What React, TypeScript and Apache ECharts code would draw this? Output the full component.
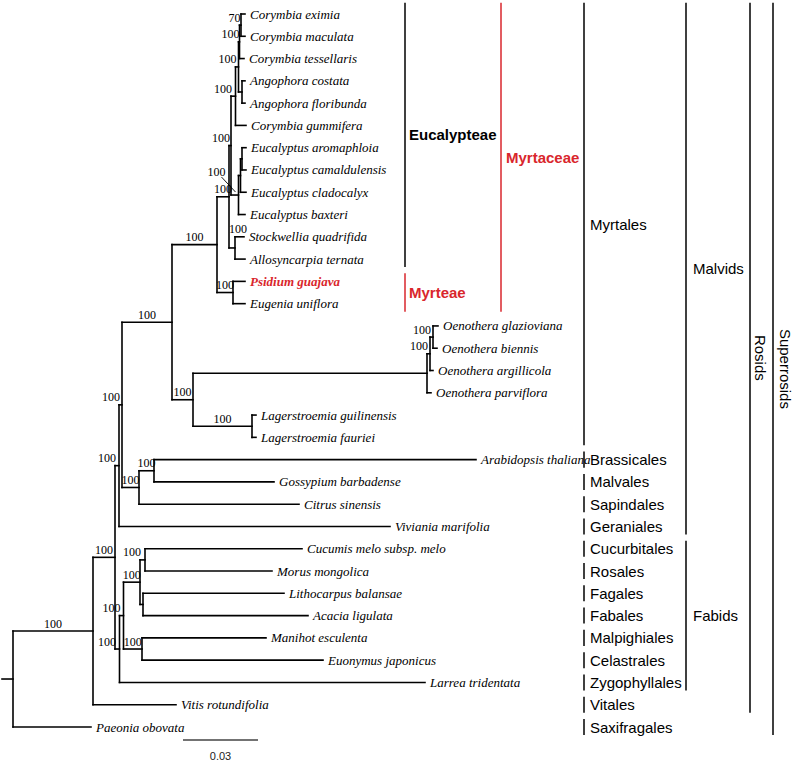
import React, { useEffect, useRef } from "react";
import * as echarts from "echarts";

// ---------------- data ----------------
const leafNames = [
  "Corymbia eximia", "Corymbia maculata", "Corymbia tessellaris", "Angophora costata",
  "Angophora floribunda", "Corymbia gummifera", "Eucalyptus aromaphloia", "Eucalyptus camaldulensis",
  "Eucalyptus cladocalyx", "Eucalyptus baxteri", "Stockwellia quadrifida", "Allosyncarpia ternata",
  "Psidium guajava", "Eugenia uniflora", "Oenothera glazioviana", "Oenothera biennis",
  "Oenothera argillicola", "Oenothera parviflora", "Lagerstroemia guilinensis", "Lagerstroemia fauriei",
  "Arabidopsis thaliana", "Gossypium barbadense", "Citrus sinensis", "Viviania marifolia",
  "Cucumis melo subsp. melo", "Morus mongolica", "Lithocarpus balansae", "Acacia ligulata",
  "Manihot esculenta", "Euonymus japonicus", "Larrea tridentata", "Vitis rotundifolia", "Paeonia obovata",
];
// cumulative distance from root (substitutions per site)
const leafDepths = [
  0.0928, 0.0928, 0.0924, 0.0928, 0.0928, 0.0932, 0.0932, 0.0932, 0.0932, 0.0928, 0.0924, 0.0928,
  0.0928, 0.0928, 0.17, 0.1696, 0.168, 0.1672, 0.0972, 0.0972, 0.1852, 0.1044, 0.1144, 0.1508,
  0.1156, 0.1036, 0.1084, 0.118, 0.1012, 0.124, 0.1648, 0.0652, 0.0312,
];
const highlightedLeaf = "Psidium guajava";

const nodeIds = [
  "root", "N1", "N2", "N3", "N4", "Mt", "Mc", "Eu", "A5", "A4", "A3", "A2", "A1", "Ang", "E1", "E2",
  "E3", "S", "My", "LO", "O1", "O2", "O3", "Lag", "N5", "N6", "F1", "F2", "F3", "F4", "F5", "F6",
];
const nodeDepths = [
  0, 0.032, 0.0408, 0.0424, 0.0436, 0.0636, 0.0816, 0.0864, 0.0872, 0.089, 0.0902, 0.0906, 0.0912,
  0.0916, 0.0902, 0.091, 0.0916, 0.0888, 0.088, 0.072, 0.1656, 0.1668, 0.168, 0.0956, 0.0504,
  0.0564, 0.0426, 0.0442, 0.0508, 0.0528, 0.052, 0.0516,
];
const nodeChildren: (string | number)[][] = [
  ["N1", 32], ["N2", 31], ["N3", "F1"], ["N4", 23], ["Mt", "N5"], ["Mc", "LO"], ["Eu", "My"],
  ["A5", "S"], ["A4", "E1"], ["A3", 5], ["A2", "Ang"], ["A1", 2], [0, 1], [3, 4], ["E2", 9],
  ["E3", 8], [6, 7], [10, 11], [12, 13], ["O1", "Lag"], ["O2", 17], ["O3", 16], [14, 15], [18, 19],
  ["N6", 22], [20, 21], ["F2", 30], ["F3", "F6"], ["F4", "F5"], [24, 25], [26, 27], [28, 29],
];
const nodeSupport: (number | null)[] = [
  null, 100, 100, 100, 100, 100, 100, 100, 100, 100, 100, 100, 70, null, 100, null, null, 100, 100,
  100, null, 100, 100, 100, 100, 100, 100, 100, 100, 100, null, 100,
];

const cladeNames = [
  "Eucalypteae", "Myrteae", "Myrtaceae", "Myrtales", "Brassicales", "Malvales", "Sapindales",
  "Geraniales", "Cucurbitales", "Rosales", "Fagales", "Fabales", "Malpighiales", "Celastrales",
  "Zygophyllales", "Vitales", "Saxifragales", "Malvids", "Fabids", "Rosids", "Superrosids",
];
const cladeFirstLeaf = [0, 12, 0, 0, 20, 21, 22, 23, 24, 25, 26, 27, 28, 29, 30, 31, 32, 0, 24, 0, 0];
const cladeLastLeaf = [11, 13, 13, 19, 20, 21, 22, 23, 24, 25, 26, 27, 28, 29, 30, 31, 32, 23, 30, 31, 32];
const cladeRank = [0, 0, 1, 2, 2, 2, 2, 2, 2, 2, 2, 2, 2, 2, 2, 2, 2, 3, 3, 4, 5];

const scaleBarValue = 0.03;
const scaleBarLabel = "0.03";

// ---------------- layout / style ----------------
const PX_PER_UNIT = 2500;
const GRID_LEFT = 0;
const GRID_W = 600;
const X_MIN = -0.0052;
const X_MAX = X_MIN + GRID_W / PX_PER_UNIT;
const ROOT_STUB = -0.0044;
const SCALE_START = 0.068;
const RED = "#d9262c";
const rankX = [405, 501, 584, 686, 750, 773];
const rankLabelDx = [4, 5, 6, 7, 10, 12];
const redClades = new Set(["Myrteae", "Myrtaceae"]);
const boldClades = new Set(["Eucalypteae", "Myrteae", "Myrtaceae"]);
const rotatedClades = new Set(["Rosids", "Superrosids"]);
const calloutNodes = new Set(["E1"]);
const rightOfParentNodes = new Set(["S"]);

// ---------------- tree computations ----------------
const idx: Record<string, number> = {};
nodeIds.forEach((id, i) => (idx[id] = i));
const nodeY: number[] = new Array(nodeIds.length).fill(NaN);
function yOf(c: string | number): number {
  if (typeof c === "number") return c;
  const i = idx[c];
  if (isNaN(nodeY[i])) {
    const ys = nodeChildren[i].map(yOf);
    nodeY[i] = (ys[0] + ys[ys.length - 1]) / 2;
  }
  return nodeY[i];
}
function depthOf(c: string | number): number {
  return typeof c === "number" ? leafDepths[c] : nodeDepths[idx[c]];
}
nodeIds.forEach((id) => yOf(id));
const parentDepthOfNode: number[] = new Array(nodeIds.length).fill(ROOT_STUB);
nodeChildren.forEach((kids, i) => {
  kids.forEach((k) => {
    if (typeof k === "string") parentDepthOfNode[idx[k]] = nodeDepths[i];
  });
});

const segments: number[][] = [];
segments.push([ROOT_STUB, nodeY[0], 0, nodeY[0]]);
nodeChildren.forEach((kids, i) => {
  const d = nodeDepths[i];
  const ys = kids.map(yOf);
  segments.push([d, ys[0], d, ys[ys.length - 1]]);
  kids.forEach((k) => segments.push([d, yOf(k), depthOf(k), yOf(k)]));
});

const supportData: number[][] = [];
nodeSupport.forEach((s, i) => {
  if (s != null) supportData.push([parentDepthOfNode[i], nodeDepths[i], nodeY[i], i]);
});

export default function App() {
  const ref = useRef<HTMLDivElement>(null);
  useEffect(() => {
    if (!ref.current) return;
    const chart = echarts.init(ref.current, undefined, { renderer: "svg" });
    const serif = '"Liberation Serif", "Times New Roman", serif';
    const sans = '"Liberation Sans", Arial, sans-serif';
    chart.setOption({
      animation: false,
      backgroundColor: "#ffffff",
      grid: { left: GRID_LEFT, top: 14, width: GRID_W, height: 713 },
      xAxis: { type: "value", min: X_MIN, max: X_MAX, show: false },
      yAxis: { type: "value", min: 0, max: 32, inverse: true, show: false },
      series: [
        {
          type: "custom",
          coordinateSystem: "cartesian2d",
          silent: true,
          data: segments,
          encode: { x: [0, 2], y: [1, 3] },
          renderItem: (_p: any, api: any) => {
            const a = api.coord([api.value(0), api.value(1)]);
            const b = api.coord([api.value(2), api.value(3)]);
            return {
              type: "line",
              shape: { x1: a[0], y1: a[1], x2: b[0], y2: b[1] },
              style: { stroke: "#000", lineWidth: 1.6, lineCap: "square" },
            };
          },
        },
        {
          type: "custom",
          coordinateSystem: "cartesian2d",
          silent: true,
          data: leafDepths.map((d, i) => [d, i]),
          renderItem: (p: any, api: any) => {
            const c = api.coord([api.value(0), api.value(1)]);
            const name = leafNames[p.dataIndex];
            const hl = name === highlightedLeaf;
            return {
              type: "text",
              x: c[0] + 5,
              y: c[1],
              style: {
                text: name,
                fill: hl ? RED : "#000",
                fontFamily: serif,
                fontStyle: "italic",
                fontWeight: hl ? "bold" : "normal",
                fontSize: 13,
                align: "left",
                verticalAlign: "middle",
              },
            };
          },
        },
        {
          type: "custom",
          coordinateSystem: "cartesian2d",
          silent: true,
          data: supportData,
          renderItem: (p: any, api: any) => {
            const ni = supportData[p.dataIndex][3];
            const id = nodeIds[ni];
            const pp = api.coord([api.value(0), api.value(2)]);
            const np = api.coord([api.value(1), api.value(2)]);
            const text = String(nodeSupport[ni]);
            const base = { fill: "#000", fontFamily: serif, fontSize: 12, text };
            if (calloutNodes.has(id)) {
              return {
                type: "group",
                children: [
                  {
                    type: "text",
                    x: np[0] - 22,
                    y: np[1] - 23,
                    style: { ...base, align: "center", verticalAlign: "middle" },
                  },
                  {
                    type: "line",
                    shape: { x1: np[0] - 17, y1: np[1] - 18, x2: np[0] - 3, y2: np[1] - 3 },
                    style: { stroke: "#000", lineWidth: 0.9 },
                  },
                ],
              };
            }
            const len = np[0] - pp[0];
            let x = (pp[0] + np[0]) / 2;
            let y = np[1] - 1.5;
            let align = "center";
            if (rightOfParentNodes.has(id)) {
              x = pp[0];
              align = "left";
              const firstChildY = api.coord([0, yOf(nodeChildren[ni][0])])[1];
              y = firstChildY - 1.5;
            } else if (len < 10) {
              x = pp[0] + 1;
              align = "right";
            }
            return {
              type: "text",
              x,
              y,
              style: { ...base, align, verticalAlign: "bottom" },
            };
          },
        },
        {
          type: "custom",
          coordinateSystem: "cartesian2d",
          silent: true,
          data: cladeNames.map((_, i) => [cladeFirstLeaf[i], cladeLastLeaf[i]]),
          encode: { y: [0, 1] },
          renderItem: (p: any, api: any) => {
            const i = p.dataIndex;
            const name = cladeNames[i];
            const first = cladeFirstLeaf[i];
            const last = cladeLastLeaf[i];
            const topPad = first === 0 ? 0.5 : 0.36;
            const y1 = api.coord([0, first - topPad])[1];
            const y2 = api.coord([0, last + 0.36])[1];
            const r = cladeRank[i];
            const x = rankX[r];
            const color = redClades.has(name) ? RED : "#000";
            const rot = rotatedClades.has(name);
            return {
              type: "group",
              children: [
                {
                  type: "line",
                  shape: { x1: x, y1, x2: x, y2 },
                  style: { stroke: color, lineWidth: 1.5 },
                },
                {
                  type: "text",
                  x: x + rankLabelDx[r],
                  y: (y1 + y2) / 2,
                  rotation: rot ? -Math.PI / 2 : 0,
                  style: {
                    text: name,
                    fill: color,
                    fontFamily: sans,
                    fontSize: 15,
                    fontWeight: boldClades.has(name) ? "bold" : "normal",
                    align: rot ? "center" : "left",
                    verticalAlign: "middle",
                  },
                },
              ],
            };
          },
        },
        {
          type: "custom",
          coordinateSystem: "cartesian2d",
          silent: true,
          data: [[SCALE_START, scaleBarValue]],
          renderItem: (_p: any, api: any) => {
            const a = api.coord([api.value(0), 32]);
            const b = api.coord([api.value(0) + api.value(1), 32]);
            return {
              type: "group",
              children: [
                {
                  type: "line",
                  shape: { x1: a[0], y1: a[1] + 13, x2: b[0], y2: b[1] + 13 },
                  style: { stroke: "#444", lineWidth: 1.4 },
                },
                {
                  type: "text",
                  x: (a[0] + b[0]) / 2,
                  y: a[1] + 29,
                  style: {
                    text: scaleBarLabel,
                    fill: "#222",
                    fontFamily: sans,
                    fontSize: 11,
                    align: "center",
                    verticalAlign: "middle",
                  },
                },
              ],
            };
          },
        },
      ],
    });
    return () => chart.dispose();
  }, []);
  return (
    <div
      ref={ref}
      style={{ position: "absolute", left: 0, top: 0, width: 795, height: 763, background: "#fff" }}
    />
  );
}
